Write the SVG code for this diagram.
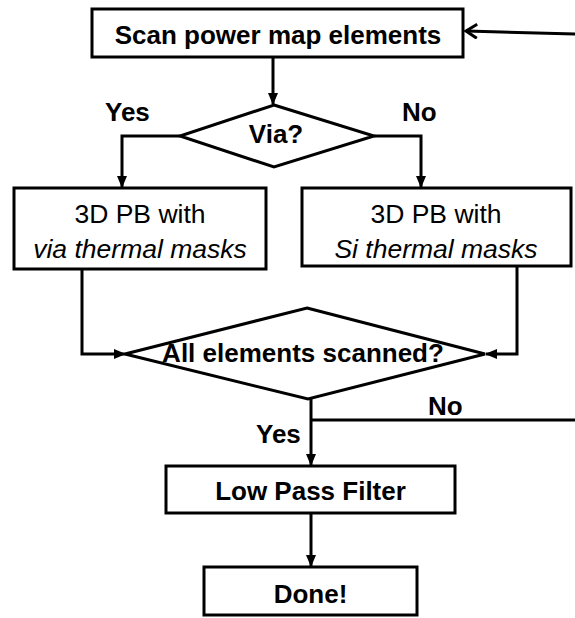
<svg xmlns="http://www.w3.org/2000/svg" width="575" height="618" viewBox="0 0 575 618">
<defs>
<style>
.box{fill:#fff;stroke:#000;stroke-width:3}
.ln{fill:none;stroke:#000;stroke-width:3}
.t{font-family:"Liberation Sans",Arial,sans-serif;fill:#000}
.b{font-weight:bold;font-size:26px}
.r{font-size:26.5px}
.i{font-style:italic}
</style>
<marker id="ah" markerUnits="userSpaceOnUse" markerWidth="12" markerHeight="12" viewBox="0 0 12 12" refX="11" refY="6" orient="auto">
<path d="M0,1 L12,6 L0,11 Z" fill="#000"/>
</marker>
<marker id="open" markerUnits="userSpaceOnUse" markerWidth="16" markerHeight="16" viewBox="0 0 16 16" refX="14" refY="8" orient="auto">
<path d="M3,1 L14,8 L3,15" fill="none" stroke="#000" stroke-width="3"/>
</marker>
</defs>
<rect width="575" height="618" fill="#fff"/>
<g id="connectors">
<line class="ln" x1="575" y1="34" x2="466" y2="31" marker-end="url(#open)"/>
<line class="ln" x1="273" y1="57" x2="273" y2="104" marker-end="url(#ah)"/>
<polyline class="ln" points="180,136 122,136 122,187" marker-end="url(#ah)"/>
<polyline class="ln" points="374,136 421,136 421,187" marker-end="url(#ah)"/>
<polyline class="ln" points="82,269 82,354 125,354" marker-end="url(#ah)"/>
<polyline class="ln" points="517,266 517,354 486,354" marker-end="url(#ah)"/>
<line class="ln" x1="311" y1="399" x2="311" y2="465" marker-end="url(#ah)"/>
<line class="ln" x1="311" y1="420" x2="575" y2="420"/>
<line class="ln" x1="311" y1="513" x2="311" y2="566" marker-end="url(#ah)"/>
<text class="t b" x="105" y="121">Yes</text>
<text class="t b" x="402" y="121" font-size="27">No</text>
<text class="t b" x="428" y="415" font-size="27">No</text>
<text class="t b" x="256" y="443">Yes</text>
</g>
<g id="scan">
<rect class="box" x="92" y="9" width="371" height="48"/>
<text class="t b" x="278" y="44" text-anchor="middle" font-size="29">Scan power map elements</text>
</g>
<g id="via">
<polygon class="box" points="274,105 374,136 274,167 180,136"/>
<text class="t b" x="276" y="143" text-anchor="middle" font-size="28.5">Via?</text>
</g>
<g id="via-mask">
<rect class="box" x="14" y="188" width="252" height="81"/>
<text class="t r" x="140" y="223" text-anchor="middle">3D PB with</text>
<text class="t r i" x="140" y="258" text-anchor="middle" font-size="27.5">via thermal masks</text>
</g>
<g id="si-mask">
<rect class="box" x="302" y="188" width="269" height="78"/>
<text class="t r" x="436" y="223" text-anchor="middle">3D PB with</text>
<text class="t r i" x="436" y="258" text-anchor="middle" font-size="27">Si thermal masks</text>
</g>
<g id="all-scanned">
<polygon class="box" points="307,308 485,354 308,399 125,354"/>
<text class="t b" x="303" y="362" text-anchor="middle" font-size="22">All elements scanned?</text>
</g>
<g id="lpf">
<rect class="box" x="166" y="466" width="289" height="47"/>
<text class="t b" x="310.5" y="500" text-anchor="middle" font-size="27">Low Pass Filter</text>
</g>
<g id="done">
<rect class="box" x="204" y="567" width="213" height="48"/>
<text class="t b" x="310.5" y="603" text-anchor="middle" font-size="30">Done!</text>
</g>
</svg>
